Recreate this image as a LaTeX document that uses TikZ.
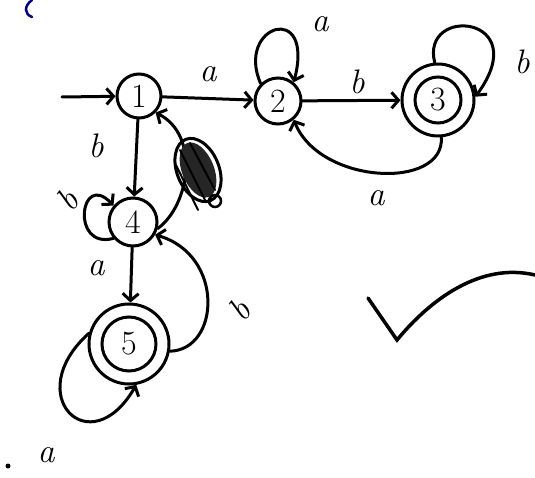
\documentclass[tikz,border=0pt]{standalone}
\usetikzlibrary{arrows.meta}
\begin{document}
\begin{tikzpicture}[x=1pt,y=-1pt,line width=3pt,line cap=round,
  >={Straight Barb[length=7pt,width=16pt]},
  st/.style={circle,draw,inner sep=0pt,font=\fontsize{34}{34}\selectfont},
  lbl/.style={font=\itshape\fontsize{34}{34}\selectfont,inner sep=0pt}]
\useasboundingbox (0,0) rectangle (535,478);
% states
\node[st,minimum size=44pt] (n1) at (139,96) {1};
\node[st,minimum size=46pt] (n2) at (278,101) {2};
\node[st,minimum size=72pt] (n3) at (438,100) {3};
\draw (n3.center) circle (23);
\node[st,minimum size=48pt] (n4) at (133,222) {4};
\node[st,minimum size=80pt] (n5) at (129,344) {5};
\draw (n5.center) circle (27);
% start
\coordinate (s) at (62,97);
\draw[->] (s) -- (n1);
% edges
\draw[->] (n1) -- (n2);
\node[lbl] (la12) at (208,74) {a};
\draw[->] (n2.135) .. controls (235,25) and (315,0) .. (n2.50);
\node[lbl] (la22) at (320,24) {a};
\draw[->] (n2) -- (n3);
\node[lbl] (lb23) at (357,82) {b};
\draw[->] (n3.-85) .. controls (445,190) and (320,185) .. (n2.-50);
\node[lbl] (la32) at (376,198) {a};
\draw[->] (n3.95) .. controls (420,5) and (535,15) .. (n3.5);
\node[lbl] (lb33) at (522,62) {b};
\draw[->] (n1) -- (n4);
\node[lbl] (lb14) at (96,146) {b};
\draw[->] (n4.-15) .. controls (190,205) and (200,135) .. (n1.-45);
\draw[->] (n4.220) .. controls (70,250) and (80,170) .. (n4.140);
\node[lbl,rotate=50] (lb44) at (68,200) {b};
\draw[->] (n4) -- (n5);
\node[lbl] (la45) at (96,268) {a};
\draw[->] (n5.-10) .. controls (220,350) and (225,255) .. (n4.-30);
\node[lbl,rotate=50] (lb54) at (240,310) {b};
\draw[->] (n5.165) .. controls (20,395) and (90,465) .. (n5.-80);
\node[lbl] (la55) at (46,455) {a};
% scribble over the 4->1 label
\fill[black!85] (198,170) ellipse [x radius=16, y radius=29, rotate=22];
\draw (198,170) ellipse [x radius=21, y radius=33, rotate=22];
\draw[line width=2pt] (180,150) -- (205,200) (176,165) -- (198,210) (190,143) -- (215,190);
\draw[line width=2.5pt] (215,201) circle (6);
% tick mark
\draw[line width=3.5pt] (368,298) -- (397,340) .. controls (430,300) and (480,262) .. (535,275);
% stray marks
\draw[blue!55!black,line width=2.5pt] (32,0) .. controls (24,6) and (24,14) .. (32,17);
\fill (8,466) circle (2.5);
\end{tikzpicture}
\end{document}
